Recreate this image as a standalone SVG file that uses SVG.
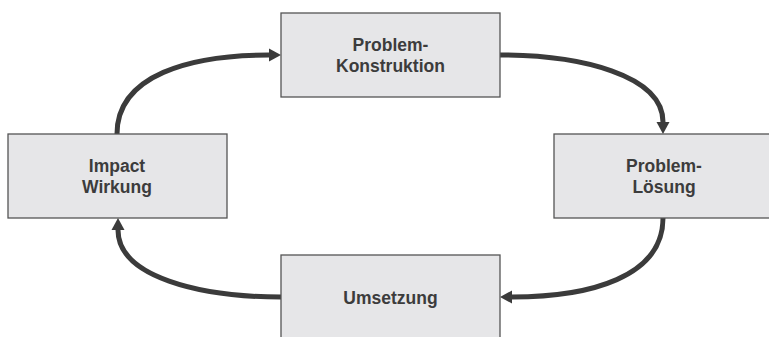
<svg xmlns="http://www.w3.org/2000/svg" width="769" height="337" viewBox="0 0 769 337">
  <style>
    .box { fill: #e6e6e8; stroke: #555555; stroke-width: 1.3; }
    .label { font-family: "Liberation Sans", Arial, sans-serif; font-weight: bold; font-size: 17.5px; fill: #3c3c3c; text-anchor: middle; }
    .conn { fill: none; stroke: #3b3b3b; stroke-width: 5; marker-end: url(#head); }
  </style>
  <defs>
    <marker id="head" markerUnits="userSpaceOnUse" markerWidth="13" markerHeight="14" refX="0" refY="6.5" orient="auto" viewBox="0 0 13 14" overflow="visible">
      <path d="M0,0 L12,6.5 L0,13 Z" fill="#3b3b3b"/>
    </marker>
  </defs>
  <rect width="769" height="337" fill="#ffffff"/>

  <g id="connectors">
    <path class="conn" d="M117,134 C117,75 190,55 269,55"/>
    <path class="conn" d="M500,55 C580,55 663,75 663,122"/>
    <path class="conn" d="M663,218 C663,277 590,297 512,297"/>
    <path class="conn" d="M281,297 C200,297 118,277 118,230"/>
  </g>

  <g id="problem-konstruktion">
    <rect class="box" x="281" y="13" width="219" height="84"/>
    <text class="label" x="390.5" y="51">Problem-</text>
    <text class="label" x="390.5" y="72">Konstruktion</text>
  </g>

  <g id="problem-loesung">
    <rect class="box" x="554" y="134" width="219" height="84"/>
    <text class="label" x="664" y="172">Problem-</text>
    <text class="label" x="664" y="193">Lösung</text>
  </g>

  <g id="umsetzung">
    <rect class="box" x="281" y="255" width="219" height="90"/>
    <text class="label" x="390.5" y="304">Umsetzung</text>
  </g>

  <g id="impact-wirkung">
    <rect class="box" x="8" y="134" width="219" height="84"/>
    <text class="label" x="117" y="172">Impact</text>
    <text class="label" x="117" y="193">Wirkung</text>
  </g>
</svg>
